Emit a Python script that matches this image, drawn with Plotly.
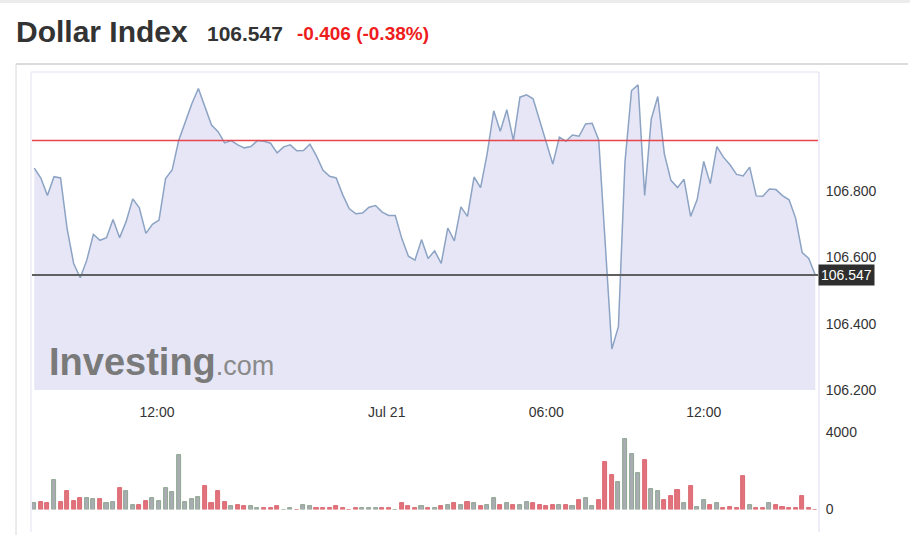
import plotly.graph_objects as go

W, H = 910, 535
H_EFF = 527  # vertical extent the page actually renders the figure at

# ---------------- data ----------------
prices = [
    106.870, 106.840, 106.787, 106.844, 106.840, 106.687, 106.582, 106.539, 106.592, 106.670,
    106.652, 106.660, 106.715, 106.660, 106.709, 106.777, 106.750, 106.673, 106.700, 106.713,
    106.838, 106.864, 106.953, 107.011, 107.064, 107.110, 107.054, 107.000, 106.980, 106.946,
    106.953, 106.940, 106.931, 106.935, 106.953, 106.951, 106.945, 106.916, 106.934, 106.940,
    106.922, 106.923, 106.942, 106.906, 106.863, 106.845, 106.840, 106.789, 106.747, 106.732,
    106.734, 106.752, 106.757, 106.737, 106.727, 106.727, 106.657, 106.604, 106.592, 106.654,
    106.597, 106.620, 106.582, 106.689, 106.650, 106.753, 106.724, 106.843, 106.811, 106.913,
    107.043, 106.981, 107.046, 106.953, 107.084, 107.091, 107.079, 107.013, 106.948, 106.882,
    106.963, 106.951, 106.970, 106.966, 107.003, 107.005, 106.955, 106.627, 106.324, 106.391,
    106.888, 107.104, 107.121, 106.787, 107.018, 107.086, 106.913, 106.833, 106.811, 106.836,
    106.724, 106.775, 106.890, 106.823, 106.935, 106.903, 106.880, 106.851, 106.846, 106.873,
    106.786, 106.785, 106.807, 106.805, 106.787, 106.774, 106.719, 106.615, 106.597, 106.547,
]

volumes = [
    310, 396, 310, 1514, 396, 963, 464, 602, 602, 533,
    533, 310, 396, 1100, 963, 240, 240, 464, 602, 464,
    1100, 894, 2820, 396, 533, 670, 1238, 310, 963, 396,
    172, 240, 172, 172, 103, 103, 103, 172, 0, 103,
    0, 240, 172, 103, 103, 103, 172, 103, 0, 103,
    103, 103, 103, 103, 103, 0, 310, 172, 103, 172,
    103, 103, 172, 240, 310, 240, 396, 310, 172, 240,
    602, 240, 310, 240, 240, 396, 310, 240, 172, 240,
    240, 240, 172, 516, 602, 172, 516, 2442, 1772, 1428,
    3629, 2855, 1858, 2546, 1066, 946, 516, 705, 998, 361,
    1204, 138, 516, 224, 361, 103, 155, 103, 1703, 224,
    103, 103, 361, 224, 155, 103, 103, 705, 103, 0,
]

tick_labels = ["12:00", "Jul 21", "06:00", "12:00"]
tick_index = [18.7, 53.7, 78.0, 102.0]

price_ticks = [106.2, 106.4, 106.6, 106.8]
volume_ticks = [0, 4000]

last_price = 106.547
prev_close = 106.953
change_text = "-0.406 (-0.38%)"
title_text = "Dollar Index"

# ---------------- helpers ----------------
def px(x):
    return x / W

def py(y):
    return 1 - y / H_EFF

idx = list(range(len(prices)))
bar_colors = []
bar_lines = []
for i, p in enumerate(prices):
    up = i == 0 or p >= prices[i - 1]
    bar_colors.append("#a9acb2" if up else "#e2727b")
    bar_lines.append("#7e9c80" if up else "#d45862")

fig = go.Figure()

fig.add_trace(go.Scatter(
    x=idx, y=prices, mode="lines",
    line=dict(color="#8ca3c4", width=1.5),
    fill="tozeroy", fillcolor="#e6e6f6",
    xaxis="x", yaxis="y", hoverinfo="skip", showlegend=False,
))

fig.add_trace(go.Bar(
    x=idx, y=volumes, width=0.62,
    marker=dict(color=bar_colors, line=dict(color=bar_lines, width=0.8)),
    xaxis="x2", yaxis="y2", hoverinfo="skip", showlegend=False,
))

xr = [-0.35, len(prices) - 1 + 0.41]
font_axis = dict(family="Liberation Sans, Arial, sans-serif", size=14, color="#333333")

fig.update_layout(
    width=W, height=H, autosize=False,
    margin=dict(l=0, r=0, t=0, b=0),
    paper_bgcolor="white", plot_bgcolor="white",
    bargap=0,
    xaxis=dict(
        domain=[px(32), px(818)], range=xr,
        tickvals=tick_index, ticktext=tick_labels,
        ticks="outside", ticklen=9, tickcolor="rgba(0,0,0,0)",
        showgrid=False, zeroline=False, showline=False,
        tickfont=font_axis, anchor="y",
    ),
    yaxis=dict(
        domain=[py(390), py(72)], range=[106.2, 107.16],
        side="right", tickvals=price_ticks, tickformat=".3f",
        ticks="outside", ticklen=4, tickcolor="rgba(0,0,0,0)",
        showgrid=False, zeroline=False, showline=False,
        tickfont=font_axis, anchor="x",
    ),
    xaxis2=dict(
        domain=[px(32), px(818)], range=xr, matches="x",
        showticklabels=False, showgrid=False, zeroline=False, showline=False,
        anchor="y2",
    ),
    yaxis2=dict(
        domain=[py(509.5), py(420)], range=[0, 4618],
        side="right", tickvals=volume_ticks,
        ticks="outside", ticklen=4, tickcolor="rgba(0,0,0,0)",
        showgrid=False, zeroline=False, showline=False,
        tickfont=font_axis, anchor="x2",
    ),
)

shapes = []
# top light band
shapes.append(dict(type="rect", xref="paper", yref="paper", x0=0, x1=1, y0=py(3), y1=1,
                   fillcolor="#ececec", line=dict(width=0), layer="below"))
# container borders
shapes.append(dict(type="line", xref="paper", yref="paper", x0=px(16), x1=px(908), y0=py(64), y1=py(64),
                   line=dict(color="#cfcfcf", width=1.5)))
shapes.append(dict(type="line", xref="paper", yref="paper", x0=px(16), x1=px(16), y0=py(64), y1=py(535),
                   line=dict(color="#d8d8d8", width=1)))
# chart panel borders
shapes.append(dict(type="line", xref="paper", yref="paper", x0=px(31), x1=px(819), y0=py(72), y1=py(72),
                   line=dict(color="#e2e2f2", width=1)))
shapes.append(dict(type="line", xref="paper", yref="paper", x0=px(31), x1=px(31), y0=py(72), y1=py(532),
                   line=dict(color="#e2e2f2", width=1)))
shapes.append(dict(type="line", xref="paper", yref="paper", x0=px(819), x1=px(819), y0=py(72), y1=py(532),
                   line=dict(color="#dcdcf0", width=1)))
# previous close (red) and last price (gray)
shapes.append(dict(type="line", xref="paper", yref="y", x0=px(32), x1=px(818), y0=prev_close, y1=prev_close,
                   line=dict(color="#e8464a", width=1.5)))
shapes.append(dict(type="line", xref="paper", yref="y", x0=px(32), x1=px(818), y0=last_price, y1=last_price,
                   line=dict(color="#606060", width=2)))
fig.update_layout(shapes=shapes)

title_font = "Liberation Sans, Arial, sans-serif"
annotations = [
    dict(xref="paper", yref="paper", x=px(14), y=py(31), xanchor="left", yanchor="middle",
         text="<b>" + title_text + "</b>", showarrow=False,
         font=dict(family=title_font, size=30, color="#333333")),
    dict(xref="paper", yref="paper", x=px(205), y=py(33), xanchor="left", yanchor="middle",
         text="<b>%.3f</b>" % last_price, showarrow=False,
         font=dict(family=title_font, size=21, color="#333333")),
    dict(xref="paper", yref="paper", x=px(295), y=py(34), xanchor="left", yanchor="middle",
         text="<b>" + change_text + "</b>", showarrow=False,
         font=dict(family=title_font, size=19, color="#ee1c1c")),
    # last price tag
    dict(xref="paper", yref="y", x=px(818), y=last_price, xanchor="left", yanchor="middle",
         text="%.3f" % last_price, showarrow=False, bgcolor="#2e2e2e", borderpad=2,
         font=dict(family=title_font, size=14, color="white")),
    # watermark
    dict(xref="paper", yref="paper", x=px(47), y=py(362), xanchor="left", yanchor="middle",
         text="<b>Investing</b><span style='font-size:27px;color:#8a8a8a'>.com</span>", showarrow=False,
         font=dict(family=title_font, size=38, color="#7a7a7a")),
]
fig.update_layout(annotations=annotations)

fig.write_html(
    "out.html",
    config={"responsive": False, "displayModeBar": False},
    post_script="document.body.style.margin='0px';document.body.style.overflow='hidden';",
)
